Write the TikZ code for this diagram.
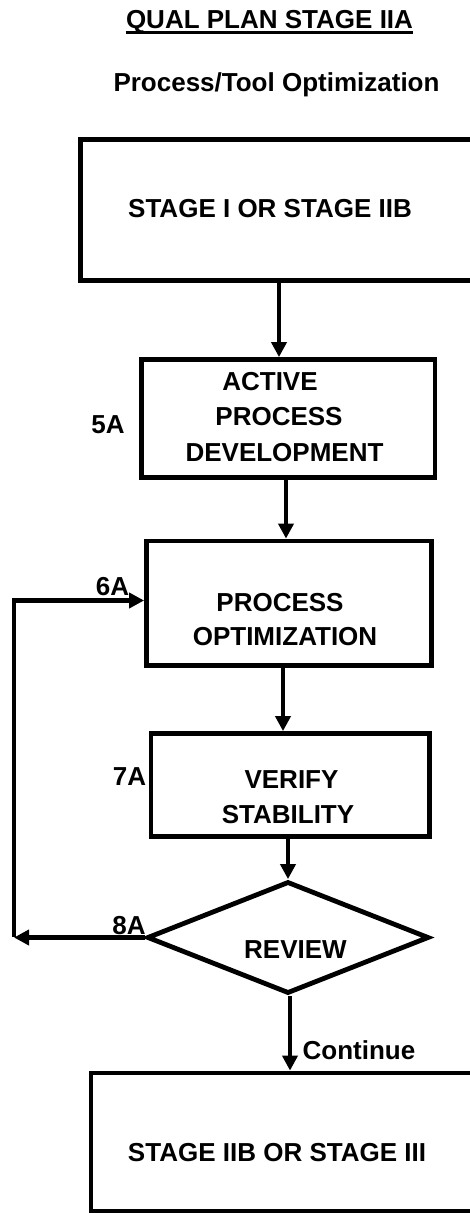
\documentclass[tikz,border=0pt]{standalone}
\usepackage{fontspec}
\setmainfont{Liberation Sans}
\usetikzlibrary{arrows.meta,shapes.geometric}
\begin{document}
\begin{tikzpicture}[x=0.5pt,y=-0.5pt,
  every node/.style={font=\bfseries\fontsize{13}{16}\selectfont},
  box/.style={draw,rectangle,line width=2.4pt,line join=miter,inner sep=0pt},
  txt/.style={inner sep=0pt,anchor=base},
  arr/.style={line width=2.4pt,-{Triangle[length=7.5pt,width=7.5pt]}}]
\clip (0,0) rectangle (470,1213);

% heading
\node[txt] (title) at (269.5,29) {QUAL PLAN STAGE IIA};
\draw[line width=1.4pt] ([yshift=-1.75pt]title.base west) -- ([yshift=-1.75pt]title.base east);
\node[txt] (subtitle) at (276.5,92) {Process/Tool Optimization};

% process boxes
\node[box,minimum width=204.75pt,minimum height=70.5pt] (box1) at (285.25,210) {};
\node[box,minimum width=146.75pt,minimum height=59pt] (box2) at (288.25,418.5) {};
\node[box,minimum width=142.5pt,minimum height=62.25pt] (box3) at (289,603.25) {};
\node[box,minimum width=139.25pt,minimum height=51.5pt] (box4) at (290.25,785) {};
\node[draw,diamond,line width=2.4pt,line join=miter,inner sep=0pt,
      minimum width=141pt,minimum height=56pt] (review) at (288,937.5) {};
\node[box,minimum width=199.5pt,minimum height=69pt] (box5) at (290.5,1142) {};

% box texts
\node[txt] (t1) at (270,218) {STAGE I OR STAGE IIB};
\node[txt] (t2a) at (270,391) {ACTIVE};
\node[txt] (t2b) at (279,425) {PROCESS};
\node[txt] (t2c) at (284.5,461) {DEVELOPMENT};
\node[txt] (t3a) at (280,611) {PROCESS};
\node[txt] (t3b) at (285,645) {OPTIMIZATION};
\node[txt] (t4a) at (291.5,788) {VERIFY};
\node[txt] (t4b) at (288,823) {STABILITY};
\node[txt] (t5) at (295.5,958) {REVIEW};
\node[txt] (t6) at (277,1161) {STAGE IIB OR STAGE III};

% step numbers
\node[txt] (n5) at (108,433) {5A};
\node[txt] (n6) at (112.5,595) {6A};
\node[txt] (n7) at (129.5,785) {7A};
\node[txt] (n8) at (129,934) {8A};
\node[txt] (cont) at (359,1059) {Continue};

% connector columns
\coordinate (c1) at (279,0);
\coordinate (c2) at (286,0);
\coordinate (c3) at (283,0);
\coordinate (c4) at (288,0);
\coordinate (c5) at (290,0);
\coordinate (lb) at (14,937);
\coordinate (lt) at (14,600.5);

\draw[arr] (box1.south -| c1) -- (box2.north -| c1);
\draw[arr] (box2.south -| c2) -- (box3.north -| c2);
\draw[arr] (box3.south -| c3) -- (box4.north -| c3);
\draw[arr] (box4.south -| c4) -- (review.north);
\draw[arr] (review.south -| c5) -- (box5.north -| c5);

% feedback loop
\draw[arr] (review.west) -- (review.west -| lb);
\draw[arr,line join=miter] (lb) -- (lt) -- (box3.west |- lt);
\end{tikzpicture}
\end{document}
